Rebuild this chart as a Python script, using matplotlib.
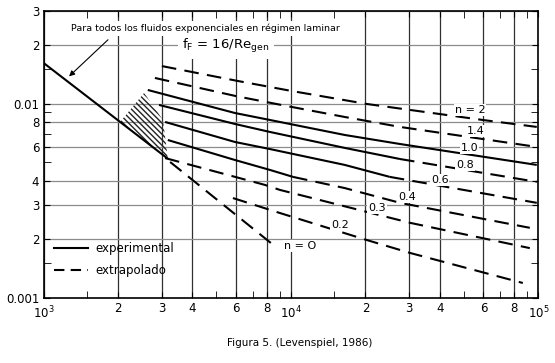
import matplotlib
matplotlib.use("Agg")
import matplotlib.pyplot as plt
from matplotlib.lines import Line2D
from matplotlib.patches import Polygon
from matplotlib.ticker import FixedLocator, FixedFormatter, NullFormatter

plt.rcParams['font.family'] = ['DejaVu Sans']
plt.rcParams['hatch.linewidth'] = 1.0

# values: Re_gen and f_F
re_lam = [1000, 3180]
f_lam = [0.0162, 0.0052]

re_hatch = [2040, 2550, 3040, 3180]
f_hatch = [0.00804, 0.01134, 0.00823, 0.0052]

re_n2 = [3010, 6050, 10100, 20300, 59700, 98600]
f_n2 = [0.0156, 0.0131, 0.0116, 0.00995, 0.00823, 0.00758]

re_n14 = [2820, 6050, 10100, 16500, 27600, 98600]
f_n14 = [0.01355, 0.0109, 0.0096, 0.00853, 0.00758, 0.00598]

re_n10 = [2640, 5940, 8230, 16500, 27600, 98600]
f_n10 = [0.01175, 0.00894, 0.00823, 0.00689, 0.00619, 0.00483]

re_n08_exp = [2930, 5940, 8230, 16500, 27600]
f_n08_exp = [0.00984, 0.00785, 0.00714, 0.00591, 0.00518]
re_n08_ext = [27600, 98600]
f_n08_ext = [0.00518, 0.00395]

re_n06_exp = [3100, 5940, 8230, 16500, 25100]
f_n06_exp = [0.00804, 0.00634, 0.00583, 0.00483, 0.00419]
re_n06_ext = [25100, 98600]
f_n06_ext = [0.00419, 0.00308]

re_n04_exp = [3180, 5940, 8230, 10200]
f_n04_exp = [0.00649, 0.00512, 0.00455, 0.00419]
re_n04_ext = [10200, 16500, 27600, 92400]
f_n04_ext = [0.00419, 0.00367, 0.00308, 0.00229]

re_n03 = [3100, 7850, 9030, 30300, 92400]
f_n03 = [0.00524, 0.00381, 0.00359, 0.00243, 0.00180]

re_n02 = [5830, 8780, 20300, 30300, 86600]
f_n02 = [0.00326, 0.00276, 0.00198, 0.00170, 0.00119]

re_n0 = [3250, 8620]
f_n0 = [0.0050, 0.00184]

# curve labels: text, Re, f
curve_labels = ['n = 2', '1.4', '1.0', '0.8', '0.6', '0.4', '0.3', '0.2', 'n = O']
label_re = [52900, 55900, 52900, 50500, 40000, 29400, 22300, 15800, 10900]
label_f = [0.00927, 0.00722, 0.00591, 0.00483, 0.00404, 0.0033, 0.0029, 0.00237, 0.00185]

x_ticks = [1e3, 2e3, 3e3, 4e3, 6e3, 8e3, 1e4, 2e4, 3e4, 4e4, 6e4, 8e4, 1e5]
x_ticklabels = ['$10^3$', '2', '3', '4', '6', '8', '$10^4$', '2', '3', '4', '6', '8', '$10^5$']
x_minor = [1.5e3, 5e3, 7e3, 9e3, 1.5e4, 5e4, 7e4, 9e4]
y_ticks = [1e-3, 2e-3, 3e-3, 4e-3, 6e-3, 8e-3, 1e-2, 2e-2, 3e-2]
y_ticklabels = ['0.001', '2', '3', '4', '6', '8', '0.01', '2', '3']
y_minor = [1.5e-3, 5e-3, 7e-3, 9e-3, 1.5e-2]

fig = plt.figure(figsize=(5.55, 3.63), dpi=100)
ax = fig.add_axes([0.0784, 0.18, 0.8915, 0.7898])
ax.set_xscale('log')
ax.set_yscale('log')
ax.set_xlim(1e3, 1e5)
ax.set_ylim(1e-3, 3e-2)

ax.xaxis.set_major_locator(FixedLocator(x_ticks))
ax.xaxis.set_major_formatter(FixedFormatter(x_ticklabels))
ax.xaxis.set_minor_locator(FixedLocator(x_minor))
ax.xaxis.set_minor_formatter(NullFormatter())
ax.yaxis.set_major_locator(FixedLocator(y_ticks))
ax.yaxis.set_major_formatter(FixedFormatter(y_ticklabels))
ax.yaxis.set_minor_locator(FixedLocator(y_minor))
ax.yaxis.set_minor_formatter(NullFormatter())
ax.tick_params(which='both', direction='in', top=True, right=True, labelsize=8.5, color='black')
ax.tick_params(which='major', length=4, pad=3)
ax.tick_params(which='minor', length=5)
for t, lab in zip(ax.xaxis.get_major_ticks(), x_ticklabels):
    if lab.startswith('$'):
        t.set_pad(5)

ax.grid(True, which='major', axis='x', color='#303030', lw=0.9)
ax.grid(True, which='major', axis='y', color='#8c8c8c', lw=0.9)
ax.set_axisbelow(True)
for s in ax.spines.values():
    s.set_linewidth(1.2)

lw = 1.5
dash = (0, (7, 4))
solid = dict(color='black', lw=lw, solid_capstyle='butt')
dashed = dict(color='black', lw=lw, ls=dash)

ax.plot(re_lam, f_lam, **solid)
ax.add_patch(Polygon(list(zip(re_hatch, f_hatch)), closed=True, fill=False,
                     hatch='\\' * 6, lw=0, edgecolor='#222222'))
ax.plot(re_n2, f_n2, **dashed)
ax.plot(re_n14, f_n14, **dashed)
ax.plot(re_n10, f_n10, **solid)
ax.plot(re_n08_exp, f_n08_exp, **solid)
ax.plot(re_n08_ext, f_n08_ext, **dashed)
ax.plot(re_n06_exp, f_n06_exp, **solid)
ax.plot(re_n06_ext, f_n06_ext, **dashed)
ax.plot(re_n04_exp, f_n04_exp, **solid)
ax.plot(re_n04_ext, f_n04_ext, **dashed)
ax.plot(re_n03, f_n03, **dashed)
ax.plot(re_n02, f_n02, **dashed)
ax.plot(re_n0, f_n0, **dashed)

for txt, x, y in zip(curve_labels, label_re, label_f):
    ax.text(x, y, txt, ha='center', va='center', fontsize=8, zorder=4,
            bbox=dict(facecolor='white', edgecolor='none', pad=0.6))

ax.text(4494, 0.0245, 'Para todos los fluidos exponenciales en régimen laminar',
        ha='center', va='center', fontsize=6.8, zorder=4,
        bbox=dict(facecolor='white', edgecolor='none', pad=2))
ax.text(5457, 0.0198, r'f$_\mathrm{F}$ = 16/Re$_\mathrm{gen}$', ha='center', va='center',
        fontsize=9.5, zorder=4, bbox=dict(facecolor='white', edgecolor='none', pad=3))
ax.annotate('', xy=(1245, 0.0135), xytext=(1857, 0.0218),
            arrowprops=dict(arrowstyle='-|>', color='black', lw=0.8, mutation_scale=8))

handles = [Line2D([], [], color='black', lw=lw),
           Line2D([], [], color='black', lw=lw, ls=(0, (5, 3)))]
ax.legend(handles, ['experimental', 'extrapolado'], loc='upper left',
          bbox_to_anchor=(0.021, 0.194), frameon=False, fontsize=8.5,
          borderpad=0, borderaxespad=0, handlelength=2.9, handletextpad=0.6,
          labelspacing=0.75)

fig.text(0.54, 0.055, 'Figura 5. (Levenspiel, 1986)', ha='center', va='center', fontsize=7.5)

fig.savefig('out.png', dpi=100, facecolor='white')
